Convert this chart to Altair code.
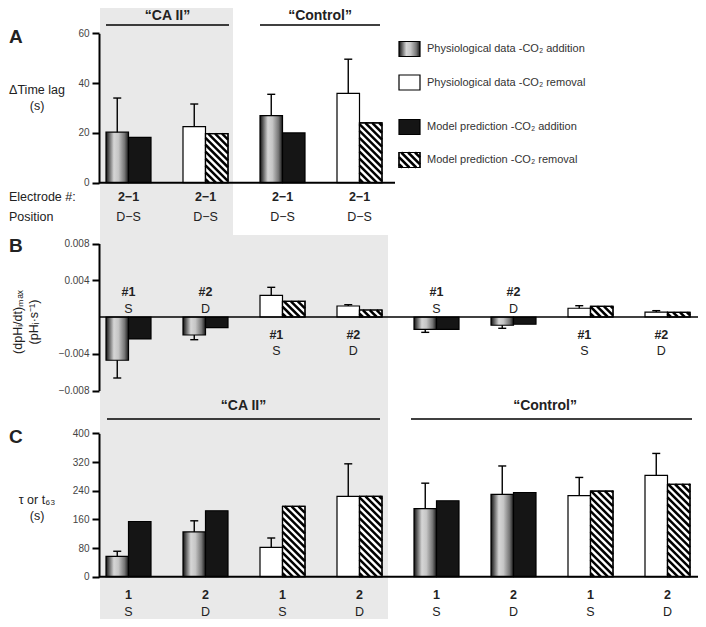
import altair as alt
import numpy as np
import pandas as pd

# ---------------- data ----------------
# Panel A: delta time lag (s), electrode pair 2-1 (D-S)
a_condition = ["CA II", "CA II", "Control", "Control"]
a_direction = ["addition", "removal", "addition", "removal"]
a_electrode = ["2−1", "2−1", "2−1", "2−1"]
a_position = ["D−S", "D−S", "D−S", "D−S"]
a_physio = [20.3, 22.5, 26.9, 35.9]
a_physio_sd = [13.7, 9.1, 8.6, 13.7]
a_model = [18.2, 19.7, 20.0, 24.0]

# Panel B: (dpHi/dt)max
b_condition = ["CA II"] * 4 + ["Control"] * 4
b_direction = ["addition", "addition", "removal", "removal"] * 2
b_electrode = ["#1", "#2", "#1", "#2"] * 2
b_position = ["S", "D", "S", "D"] * 2
b_physio = [-0.00471, -0.00196, 0.00236, 0.00120, -0.00134, -0.00090, 0.00095, 0.00054]
b_physio_sd = [0.00193, 0.00051, 0.00087, 0.00014, 0.00033, 0.00033, 0.00028, 0.00015]
b_model = [-0.00239, -0.00116, 0.00171, 0.00076, -0.00134, -0.00079, 0.00116, 0.00051]

# Panel C: tau or t63 (s)
c_condition = ["CA II"] * 4 + ["Control"] * 4
c_direction = ["addition", "addition", "removal", "removal"] * 2
c_electrode = ["1", "2", "1", "2"] * 2
c_position = ["S", "D", "S", "D"] * 2
c_physio = [57, 125, 82, 224, 190, 230, 226, 283]
c_physio_sd = [14, 31, 26, 91, 71, 79, 51, 61]
c_model = [154, 184, 196, 224, 212, 235, 239, 258]

legend_kinds = ["grad", "white", "black", "hatch"]
legend_labels = [
    "Physiological data -CO₂ addition",
    "Physiological data -CO₂ removal",
    "Model prediction -CO₂ addition",
    "Model prediction -CO₂ removal",
]
a_ticks = [0, 20, 40, 60]
b_ticks = [-0.008, -0.004, 0.004, 0.008]
c_ticks = [0, 80, 160, 240, 320, 400]

# ---------------- layout ----------------
PAD_L = 91
W, H = 599, 611
SLOT = 77.0          # px between group centres
SLOT1_X = 29.5       # plot x of first group centre
BW = 22.5 / SLOT     # bar width in slot units
CAP = 4.0 / SLOT
X_SCALE = alt.Scale(domain=[0.5, 8.5],
                    range=[SLOT1_X - 0.5 * SLOT, SLOT1_X + 7.5 * SLOT],
                    nice=False, zero=False)

PANELS = {
    "A": dict(zero=182.7, ppu=2.49, domain=[0, 60], ticks=a_ticks),
    "B": dict(zero=317.0, ppu=9187.5, domain=[-0.008, 0.008], ticks=b_ticks),
    "C": dict(zero=576.7, ppu=0.35833, domain=[0, 400], ticks=c_ticks),
}

GRAY = "#e9e9e9"
INK = "#222222"
GRAD = alt.LinearGradient(
    gradient="linear", x1=0, x2=1, y1=0, y2=0,
    stops=[
        alt.GradientStop(offset=0.0, color="#111111"),
        alt.GradientStop(offset=0.12, color="#555555"),
        alt.GradientStop(offset=0.35, color="#d6d6d6"),
        alt.GradientStop(offset=0.55, color="#c6c6c6"),
        alt.GradientStop(offset=0.82, color="#777777"),
        alt.GradientStop(offset=1.0, color="#1a1a1a"),
    ],
)


def kx(page_x):
    return 1 + (page_x - 8 - PAD_L - SLOT1_X) / SLOT


def yv(p, page_y):
    return (p["zero"] - page_y) / p["ppu"]


def yscale(p):
    lo, hi = p["domain"]
    z = p["zero"] - 8
    return alt.Scale(domain=[lo, hi], range=[z - lo * p["ppu"], z - hi * p["ppu"]],
                     nice=False, zero=False)


def yaxis(p, label_expr=None):
    kw = dict(orient="left", values=p["ticks"], title=None, grid=False,
              domainColor="black", domainWidth=2, tickColor="black", tickWidth=2,
              tickSize=7, labelFont="Liberation Sans", labelFontSize=10,
              labelColor="#444444", labelPadding=3, zindex=1)
    if label_expr:
        kw["labelExpr"] = label_expr
    return alt.Axis(**kw)


def hatch_segments(x0, x1, top, bot, ppu, period=6.9):
    wp = (x1 - x0) * SLOT
    hp = (top - bot) * ppu
    segs = []
    c = -hp + period * 0.5
    while c < wp:
        t0 = max(0.0, -c)
        t1 = min(hp, wp - c)
        if t1 > t0:
            segs.append(dict(x0=x0 + (c + t0) / SLOT, y0=top - t0 / ppu,
                             x1=x0 + (c + t1) / SLOT, y1=top - t1 / ppu))
        c += period
    return segs


class Panel:
    def __init__(self, key, label_expr=None):
        self.p = PANELS[key]
        self.ys = yscale(self.p)
        self.ax = yaxis(self.p, label_expr)
        self.layers = []

    def Y(self, f):
        return alt.Y(f"{f}:Q", scale=self.ys, axis=self.ax)

    def rects(self, rows, **mark):
        if not rows:
            return
        df = pd.DataFrame(rows)
        self.layers.append(alt.Chart(df).mark_rect(**mark).encode(
            x=alt.X("x0:Q", scale=X_SCALE, axis=None), x2="x1:Q",
            y=self.Y("y0"), y2="y1:Q"))

    def rules(self, rows, **mark):
        if not rows:
            return
        df = pd.DataFrame(rows)
        self.layers.append(alt.Chart(df).mark_rule(**mark).encode(
            x=alt.X("x0:Q", scale=X_SCALE, axis=None), x2="x1:Q",
            y=self.Y("y0"), y2="y1:Q"))

    def texts(self, rows, **mark):
        df = pd.DataFrame(rows, columns=["x", "y", "t"])
        base = dict(font="Liberation Sans", color=INK)
        base.update(mark)
        self.layers.append(alt.Chart(df).mark_text(**base).encode(
            x=alt.X("x:Q", scale=X_SCALE, axis=None),
            y=self.Y("y"), text="t:N"))

    def bars(self, groups):
        kinds = {"grad": [], "white": [], "black": [], "hatch": []}
        for kind, x0, x1, v0, v1 in groups:
            kinds[kind].append(dict(x0=x0, x1=x1, y0=v0, y1=v1))
        self.rects(kinds["grad"], fill=GRAD, stroke="black", strokeWidth=1.2)
        self.rects(kinds["white"], fill="white", stroke="black", strokeWidth=1.2)
        self.rects(kinds["black"], fill="#151515", stroke="black", strokeWidth=1.2)
        self.rects(kinds["hatch"], fill="white", stroke="black", strokeWidth=1.2)
        segs = []
        for r in kinds["hatch"]:
            top, bot = max(r["y0"], r["y1"]), min(r["y0"], r["y1"])
            segs += hatch_segments(r["x0"], r["x1"], top, bot, self.p["ppu"])
        self.rules(segs, stroke="black", strokeWidth=2.5)
        self.rects(kinds["hatch"], fillOpacity=0, stroke="black", strokeWidth=1.2)

    def data_bars(self, slots, phys, sd, model, dirs):
        groups, err, caps = [], [], []
        for s, v, e, m, d in zip(slots, phys, sd, model, dirs):
            groups.append(("grad" if d == "addition" else "white", s - BW, s, 0, v))
            groups.append(("black" if d == "addition" else "hatch", s, s + BW, 0, m))
            xc = s - BW / 2
            top = v + (e if v >= 0 else -e)
            err.append(dict(x0=xc, x1=xc, y0=v, y1=top))
            caps.append(dict(x0=xc - CAP, x1=xc + CAP, y0=top, y1=top))
        self.bars(groups)
        self.rules(err, stroke="black", strokeWidth=1.4)
        self.rules(caps, stroke="black", strokeWidth=1.4)

    def chart(self):
        return alt.layer(*self.layers)


# ---------------- panel A ----------------
A = Panel("A")
pA = A.p
A.rects([dict(x0=kx(100), x1=kx(233), y0=yv(pA, 0), y1=yv(pA, 235))], fill=GRAY)
A.data_bars([1, 2, 3, 4], a_physio, a_physio_sd, a_model, a_direction)
A.rules([dict(x0=kx(99), x1=kx(395), y0=0, y1=0)], stroke="black", strokeWidth=2)
A.rules([dict(x0=kx(106), x1=kx(229), y0=yv(pA, 25), y1=yv(pA, 25)),
         dict(x0=kx(260), x1=kx(380), y0=yv(pA, 25), y1=yv(pA, 25))],
        stroke="black", strokeWidth=1.3)
A.texts([(kx(167.5), yv(pA, 16), "“CA II”"), (kx(320), yv(pA, 16), "“Control”")],
        fontSize=14, fontWeight="bold")
A.texts([(kx(9), yv(pA, 37), "A")], fontSize=19, fontWeight="bold", align="left")
A.texts([(kx(37), yv(pA, 90), "ΔTime lag"), (kx(37), yv(pA, 106), "(s)")], fontSize=12.5)
A.texts([(kx(9), yv(pA, 197), "Electrode #:"), (kx(9), yv(pA, 217), "Position")],
        fontSize=12.5, align="left")
A.texts([(s, yv(pA, 197), t) for s, t in zip([1, 2, 3, 4], a_electrode)],
        fontSize=12.5, fontWeight="bold")
A.texts([(s, yv(pA, 217), t) for s, t in zip([1, 2, 3, 4], a_position)], fontSize=12.5)
# legend
leg_rows = [49, 82.5, 127, 160]
leg_groups = []
for kind, cy in zip(legend_kinds, leg_rows):
    leg_groups.append((kind, kx(399), kx(420), yv(pA, cy + 7.5), yv(pA, cy - 7.5)))
A.bars(leg_groups)
A.texts([(kx(427), yv(pA, cy), t) for cy, t in zip(leg_rows, legend_labels)],
        fontSize=11, align="left", color="#333333")

# ---------------- panel B ----------------
B = Panel("B", "datum.value < 0 ? '−' + format(-datum.value, '.3f') : format(datum.value, '.3f')")
pB = B.p
B.rects([dict(x0=kx(100), x1=kx(388), y0=yv(pB, 235), y1=yv(pB, 640))], fill=GRAY)
slots8 = list(range(1, 9))
B.data_bars(slots8, b_physio, b_physio_sd, b_model, b_direction)
B.rules([dict(x0=kx(99), x1=kx(720), y0=0, y1=0)], stroke="black", strokeWidth=1.6)
B.texts([(kx(9), yv(pB, 246), "B")], fontSize=19, fontWeight="bold", align="left")
B.texts([(kx(18), yv(pB, 322), "(dpHᵢ/dt)ₘₐₓ"), (kx(34), yv(pB, 322), "(pHᵢ·s⁻¹)")],
        fontSize=12.5, angle=270)
ppuB = pB["ppu"]
lab_e, lab_p = [], []
for s, v, e, p, d in zip(slots8, b_physio, b_electrode, b_position, b_direction):
    xs = s if d == "addition" else s - 0.08
    if v < 0:
        lab_e.append((xs, 25 / ppuB, e))
        lab_p.append((xs, 8 / ppuB, p))
    else:
        lab_e.append((xs, -18 / ppuB, e))
        lab_p.append((xs, -34 / ppuB, p))
B.texts(lab_e, fontSize=12.5, fontWeight="bold")
B.texts(lab_p, fontSize=12.5)

# ---------------- panel C ----------------
C = Panel("C")
pC = C.p
C.data_bars(slots8, c_physio, c_physio_sd, c_model, c_direction)
C.rules([dict(x0=kx(99), x1=kx(720), y0=0, y1=0)], stroke="black", strokeWidth=2)
C.rules([dict(x0=kx(107), x1=kx(380), y0=yv(pC, 419), y1=yv(pC, 419)),
         dict(x0=kx(411), x1=kx(692), y0=yv(pC, 419), y1=yv(pC, 419))],
        stroke="black", strokeWidth=1.3)
C.texts([(kx(243.5), yv(pC, 406), "“CA II”"), (kx(545), yv(pC, 406), "“Control”")],
        fontSize=14, fontWeight="bold")
C.texts([(kx(9), yv(pC, 437), "C")], fontSize=19, fontWeight="bold", align="left")
C.texts([(kx(37), yv(pC, 500), "τ or t₆₃"), (kx(37), yv(pC, 516), "(s)")], fontSize=12.5)
C.texts([(s, yv(pC, 595), t) for s, t in zip(slots8, c_electrode)],
        fontSize=12.5, fontWeight="bold")
C.texts([(s, yv(pC, 612), t) for s, t in zip(slots8, c_position)], fontSize=12.5)

chart = (
    alt.layer(A.chart(), B.chart(), C.chart())
    .resolve_scale(y="independent")
    .properties(width=W, height=H, autosize=alt.AutoSizeParams(type="none"),
                padding={"left": PAD_L, "top": 0, "right": 0, "bottom": 0})
    .configure(font="Liberation Sans")
    .configure_view(strokeWidth=0)
)

chart.save("out.html", embed_options={"renderer": "svg", "actions": False})
